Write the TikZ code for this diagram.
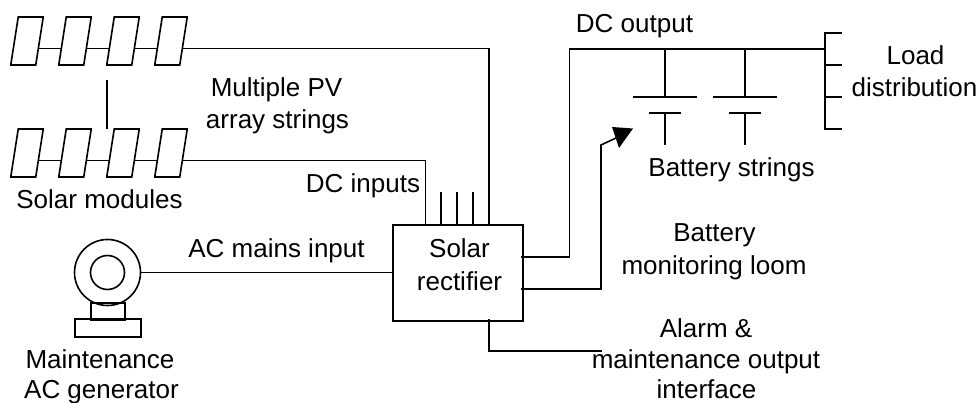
\documentclass[tikz,border=0pt]{standalone}
\usepackage{fontspec}
\setmainfont{Liberation Sans}
\usetikzlibrary{calc}
\tikzset{
  x=1pt,y=-1pt,
  wire/.style={line width=1.6pt,black,line join=miter},
  module/.style={draw,line width=1.6pt,minimum width=25pt,minimum height=48pt,inner sep=0pt,outer sep=0pt,xslant=.156,fill=white},
  boxed/.style={draw,line width=1.6pt,inner sep=0pt,outer sep=0pt},
  label/.style={font=\fontsize{26}{30}\selectfont,anchor=base,inner sep=0pt,outer sep=0pt,align=center},
}
\begin{document}
\begin{tikzpicture}
\useasboundingbox (0,0) rectangle (979,403);
% PV strings
\foreach \r/\y in {a/41,b/153}{
  \foreach \n/\x in {1/27,2/75,3/123,4/171}{
    \node[module] (\r\n) at (\x,\y) {};
  }
  \foreach \p/\q in {1/2,2/3,3/4}{
    \draw[wire] ($(\r\p.south east)!.34!(\r\p.north east)$) -- ($(\r\q.south west)!.34!(\r\q.north west)$);
  }
}
% rectifier
\node[boxed,minimum width=130pt,minimum height=96pt] (rect) at (458,273) {};
\coordinate (t1) at (425.5,225);
\coordinate (t2) at (441,225);
\coordinate (t3) at (457,225);
\coordinate (t4) at (473,225);
\coordinate (t5) at (489,225);
\coordinate (t2e) at (441,192);
\coordinate (t3e) at (457,192);
\coordinate (t4e) at (473,192);
\draw[wire] (t2) -- (t2e);
\draw[wire] (t3) -- (t3e);
\draw[wire] (t4) -- (t4e);
\draw[wire] ($(a4.south east)!.34!(a4.north east)$) -| (t5);
\draw[wire] ($(b4.south east)!.34!(b4.north east)$) -| (t1);
% link between strings
\coordinate (la) at (107,80);
\coordinate (lb) at (107,129);
\draw[wire] (la) -- (lb);
% generator
\node[boxed,circle,minimum size=66pt] (genO) at (107.5,272.5) {};
\node[boxed,circle,minimum size=34pt] (genI) at (107.5,272.5) {};
\node[boxed,minimum width=34pt,minimum height=17pt] (genP) at (108,311.5) {};
\node[boxed,minimum width=66pt,minimum height=18pt] (genB) at (108,328) {};
\draw[wire] (genO.east) -- (rect.west |- genO.east);
% DC output bus
\coordinate (o1) at (521,257);
\coordinate (bend1) at (569.5,49);
\coordinate (busend) at (825,49);
\draw[wire] (o1) -| (bend1) -- (busend);
% load distribution
\coordinate (l1) at (825,33);
\coordinate (l4) at (825,129);
\draw[wire] (842,33) -- (l1) -- (l4) -- (842,129);
\coordinate (l2) at (825,65);
\coordinate (l3) at (825,97);
\draw[wire] (l2) -- (842,65);
\draw[wire] (l3) -- (842,97);
% batteries
\foreach \x in {665,745}{
  \draw[wire] (\x,49) -- (\x,97);
  \draw[wire] (\x-32,97) -- (\x+32,97);
  \draw[wire] (\x-16,113) -- (\x+16,113);
  \draw[wire] (\x,113) -- (\x,145);
}
% monitoring loom
\coordinate (m1) at (521,289);
\coordinate (m2) at (601,145);
\coordinate (m3) at (616,138);
\draw[wire] (m1) -| (m2) -- (m3);
\fill (633,128.5) -- (612,127) -- (619,148) -- cycle;
% alarm
\coordinate (al1) at (489,319);
\coordinate (al2) at (602,351);
\draw[wire] (al1) |- (al2);
% labels
\node[label] (tMulti) at (276.5,97) {Multiple PV};
\node[label] (tArray) at (277.5,129) {array strings};
\node[label] (tSolar) at (99.5,209) {Solar modules};
\node[label] (tDCin) at (363,193) {DC inputs};
\node[label] (tAC) at (276.5,258) {AC mains input};
\node[label] (tMaint) at (100,368) {Maintenance};
\node[label] (tGen) at (101.5,398) {AC generator};
\node[label] (tSol) at (459.5,258) {Solar};
\node[label] (tRec) at (459.5,290) {rectifier};
\node[label] (tDCo) at (634.5,33) {DC output};
\node[label] (tLoad) at (915.5,65) {Load};
\node[label] (tDist) at (914.5,97) {distribution};
\node[label] (tBatS) at (731.5,177) {Battery strings};
\node[label] (tBat) at (714.5,242) {Battery};
\node[label] (tMon) at (714,274) {monitoring loom};
\node[label] (tAl) at (706,337) {Alarm \&};
\node[label] (tMo) at (706,368) {maintenance output};
\node[label] (tInt) at (706.5,398) {interface};
\end{tikzpicture}
\end{document}
